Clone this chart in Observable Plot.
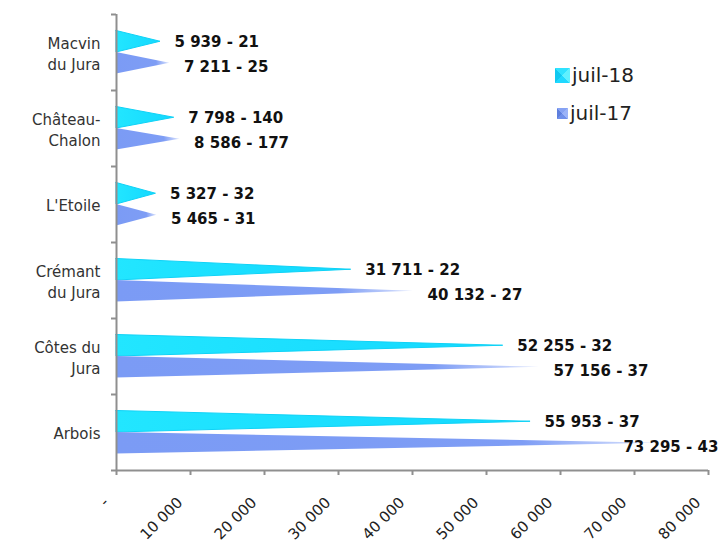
<!DOCTYPE html>
<html>
<head>
<meta charset="utf-8">
<script src="https://cdn.jsdelivr.net/npm/d3@7"></script>
<script src="https://cdn.jsdelivr.net/npm/@observablehq/plot@0.6"></script>
<style>
  html, body { margin: 0; padding: 0; background: #fff; }
  #wrap { position: relative; width: 725px; height: 546px; overflow: hidden; }
  .legend { position: absolute; left: 555px; top: 56px; font-family: "DejaVu Sans", sans-serif; font-size: 20px; color: #222; }
  .legend .row { display: flex; align-items: center; height: 38px; }
  .legend .sw { display: inline-block; margin-right: 2px; }
</style>
</head>
<body>
<div id="wrap"></div>
<script>
// ---- data ----
const categories = ["Macvin\ndu Jura", "Château-\nChalon", "L'Etoile", "Crémant\ndu Jura", "Côtes du\nJura", "Arbois"];
const series = ["juil-18", "juil-17"];
const volumes18 = [5939, 7798, 5327, 31711, 52255, 55953];
const volumes17 = [7211, 8586, 5465, 40132, 57156, 73295];
const counts18 = [21, 140, 32, 22, 32, 37];
const counts17 = [25, 177, 31, 27, 37, 43];
const xTicks = [0, 10000, 20000, 30000, 40000, 50000, 60000, 70000, 80000];

// ---- helpers ----
const fmt = d3.formatLocale({thousands: " ", grouping: [3], decimal: ","}).format(",");
const tickFmt = d => d === 0 ? "-" : fmt(d);
const half = 0.283; // thickness of one triangle in category units

function triangles(values, s) {
  const pts = [];
  values.forEach((v, i) => {
    const mid = s === 0 ? i + 0.5 - half / 2 : i + 0.5 + half / 2;
    pts.push({key: i, y: mid - half / 2, x: 0});
    pts.push({key: i, y: mid, x: v});
    pts.push({key: i, y: mid + half / 2, x: 0});
  });
  return pts;
}
function labels(values, counts, s) {
  return values.map((v, i) => ({
    y: s === 0 ? i + 0.5 - half / 2 : i + 0.5 + half / 2,
    x: Math.min(v + 1900, 68500),
    text: `${fmt(v)} - ${counts[i]}`
  }));
}
const tri18 = triangles(volumes18, 0);
const tri17 = triangles(volumes17, 1);
const lab18 = labels(volumes18, counts18, 0);
const lab17 = labels(volumes17, counts17, 1);
const catData = categories.map((c, i) => ({y: i + 0.5, text: c}));

const defs = () => {
  const d = d3.create("svg:defs");
  const g1 = d.append("linearGradient").attr("id", "gCyan").attr("x1", 0).attr("x2", 1).attr("y1", 0).attr("y2", 0);
  g1.append("stop").attr("offset", 0).attr("stop-color", "#22E6FF");
  g1.append("stop").attr("offset", 1).attr("stop-color", "#14D8FF");
  const g2 = d.append("linearGradient").attr("id", "gBlue").attr("x1", 0).attr("x2", 1).attr("y1", 0).attr("y2", 0);
  g2.append("stop").attr("offset", 0).attr("stop-color", "#7B9BF5");
  g2.append("stop").attr("offset", 0.75).attr("stop-color", "#7E9DF5");
  g2.append("stop").attr("offset", 1).attr("stop-color", "#DCE4FD");
  return d.node();
};

const chart = Plot.plot({
  width: 725,
  height: 546,
  marginLeft: 116,
  marginRight: 17,
  marginTop: 14,
  marginBottom: 76,
  style: {fontFamily: "DejaVu Sans, sans-serif", background: "#fff"},
  x: {domain: [0, 80000]},
  y: {domain: [0, 6], reverse: true},
  marks: [
    defs,
    Plot.areaX(tri18, {y: "y", x: "x", z: "key", fill: "url(#gCyan)", stroke: "#0FD2F6", strokeWidth: 1, curve: "linear"}),
    Plot.areaX(tri17, {y: "y", x: "x", z: "key", fill: "url(#gBlue)", curve: "linear"}),
    Plot.ruleX([0], {y1: 0, y2: 6, stroke: "#8f8f8f", strokeWidth: 2}),
    Plot.ruleY([6], {stroke: "#8f8f8f", strokeWidth: 2}),
    Plot.axisY({ticks: d3.range(7), tickFormat: () => "", tickSize: 5, stroke: "#8f8f8f", strokeWidth: 2, label: null}),
    Plot.axisX({ticks: xTicks, tickSize: 5, tickFormat: () => "", stroke: "#8f8f8f", strokeWidth: 2, label: null}),
    Plot.text(xTicks, {x: d => d, frameAnchor: "bottom", text: tickFmt, rotate: -45, textAnchor: "end",
      dx: -7, dy: 33, fontSize: 15, fill: "#222"}),
    Plot.text(catData, {y: "y", text: "text", frameAnchor: "left", dx: -16, textAnchor: "end",
      lineHeight: 1.45, fontSize: 15, fill: "#333"}),
    Plot.text(lab18, {x: "x", y: "y", text: "text", textAnchor: "start", fontSize: 15, fontWeight: "bold", fill: "#111"}),
    Plot.text(lab17, {x: "x", y: "y", text: "text", textAnchor: "start", dy: 4, fontSize: 15, fontWeight: "bold", fill: "#111"})
  ]
});

const wrap = document.getElementById("wrap");
wrap.appendChild(chart);

const legend = document.createElement("div");
legend.className = "legend";
const swatches = [
  {size: 15, bg: "conic-gradient(from 45deg, #5FF0FF 0 25%, #1FD8FF 25% 50%, #10C8F0 50% 75%, #2FE2FF 75% 100%)"},
  {size: 11, bg: "conic-gradient(from 45deg, #9BB3F8 0 25%, #6F8FEA 25% 50%, #5E7FDD 50% 75%, #86A2F3 75% 100%)"}
];
series.forEach((s, i) => {
  const row = document.createElement("div");
  row.className = "row";
  const sw = document.createElement("span");
  sw.className = "sw";
  sw.style.width = swatches[i].size + "px";
  sw.style.height = swatches[i].size + "px";
  sw.style.background = swatches[i].bg;
  if (i === 1) sw.style.marginLeft = "2px";
  const t = document.createElement("span");
  t.textContent = s;
  row.appendChild(sw);
  row.appendChild(t);
  legend.appendChild(row);
});
wrap.appendChild(legend);
</script>
</body>
</html>
